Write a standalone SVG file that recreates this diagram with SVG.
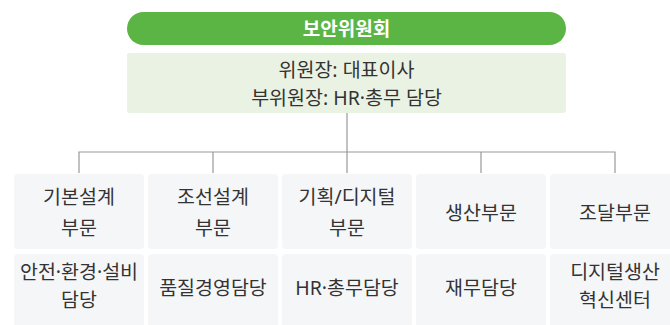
<svg xmlns="http://www.w3.org/2000/svg" width="670" height="325" viewBox="0 0 670 325">
<style>
text{font-family:"Noto Sans","Noto Sans CJK KR",sans-serif;text-anchor:middle;dominant-baseline:central;fill:#333;font-size:19.5px}
.title{fill:#fff;font-weight:700;font-size:19px}
.box{fill:#f5f6f8}
.line{stroke:#999;stroke-width:1.2;fill:none}
</style>
<rect width="670" height="325" fill="#fff"/>
<g id="committee">
<rect x="127" y="12" width="439" height="33" rx="16.5" fill="#5bb544"/>
<text class="title" x="346.5" y="28.5">보안위원회</text>
</g>
<g id="chair">
<rect x="127" y="53" width="439" height="60" rx="3" fill="#eaf2e3"/>
<text x="346.5" y="69">위원장: 대표이사</text>
<text x="346.5" y="97">부위원장: HR·총무 담당</text>
</g>
<g id="connectors">
<path class="line" d="M347 113V152M79 173V152H615V173M213 152V173M347 152V173M481 152V173"/>
</g>
<g id="n1"><rect class="box" x="14" y="174" width="130" height="75" rx="4"/><text x="79" y="196">기본설계</text><text x="79" y="227">부문</text></g>
<g id="n2"><rect class="box" x="148" y="174" width="130" height="75" rx="4"/><text x="213" y="196">조선설계</text><text x="213" y="227">부문</text></g>
<g id="n3"><rect class="box" x="282" y="174" width="130" height="75" rx="4"/><text x="347" y="196">기획/디지털</text><text x="347" y="227">부문</text></g>
<g id="n4"><rect class="box" x="416" y="174" width="130" height="75" rx="4"/><text x="481" y="212">생산부문</text></g>
<g id="n5"><rect class="box" x="550" y="174" width="130" height="75" rx="4"/><text x="615" y="212">조달부문</text></g>
<g id="m1"><rect class="box" x="14" y="254" width="130" height="80" rx="4"/><text x="79" y="271">안전·환경·설비</text><text x="79" y="299">담당</text></g>
<g id="m2"><rect class="box" x="148" y="254" width="130" height="80" rx="4"/><text x="213" y="287">품질경영담당</text></g>
<g id="m3"><rect class="box" x="282" y="254" width="130" height="80" rx="4"/><text x="347" y="287">HR·총무담당</text></g>
<g id="m4"><rect class="box" x="416" y="254" width="130" height="80" rx="4"/><text x="481" y="287">재무담당</text></g>
<g id="m5"><rect class="box" x="550" y="254" width="130" height="80" rx="4"/><text x="615" y="271">디지털생산</text><text x="615" y="299">혁신센터</text></g>
</svg>
